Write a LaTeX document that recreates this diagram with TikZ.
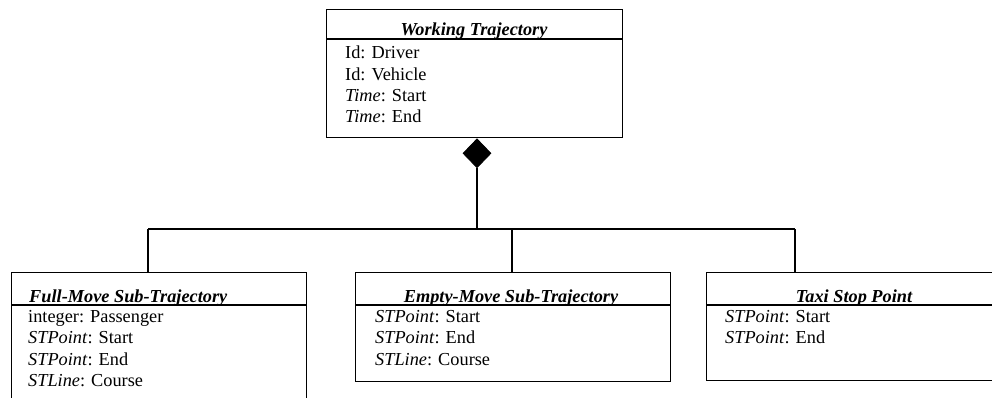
\documentclass[tikz,border=0pt]{standalone}
\usepackage{fontspec}
\setmainfont{Liberation Serif}
\usetikzlibrary{shapes.geometric}
\begin{document}
\begin{tikzpicture}[x=1pt,y=-1pt,
  box/.style={draw, line width=1.4pt, rectangle, inner sep=0pt, anchor=north west},
  attr/.style={anchor=base west, inner sep=0pt, font=\fontsize{18.3}{22}\selectfont},
  ttl/.style={anchor=base, inner sep=0pt, font=\fontsize{18.3}{22}\selectfont\bfseries\itshape},
  ttlw/.style={anchor=base west, inner sep=0pt, font=\fontsize{18.3}{22}\selectfont\bfseries\itshape},
  sep/.style={line width=1.4pt},
  conn/.style={line width=1.4pt}]
\useasboundingbox (0,0) rectangle (992,398);
\clip (0,0) rectangle (992,398);

% Working Trajectory
\node[box, minimum width=296pt, minimum height=128pt] (wt) at (326,9) {};
\draw[sep] (wt.west |- 0,39) -- (wt.east |- 0,39);
\node[ttl] (wtt) at (474,36) {Working Trajectory};
\node[attr] (wt1) at (345,59) {Id: Driver};
\node[attr] (wt2) at (345,80.3) {Id: Vehicle};
\node[attr] (wt3) at (345,101.7) {\textit{Time}: Start};
\node[attr] (wt4) at (345,123) {\textit{Time}: End};

% Full-Move
\node[box, minimum width=295pt, minimum height=140pt] (fm) at (11,272) {};
\draw[sep] (fm.west |- 0,305) -- (fm.east |- 0,305);
\node[ttlw] (fmt) at (29,302) {Full-Move Sub-Trajectory};
\node[attr] (fm1) at (28,322) {integer: Passenger};
\node[attr] (fm2) at (28,343.5) {\textit{STPoint}: Start};
\node[attr] (fm3) at (28,365) {\textit{STPoint}: End};
\node[attr] (fm4) at (28,386.5) {\textit{STLine}: Course};

% Empty-Move
\node[box, minimum width=315pt, minimum height=109pt] (em) at (355,272) {};
\draw[sep] (em.west |- 0,305) -- (em.east |- 0,305);
\node[ttl] (emt) at (511,302) {Empty-Move Sub-Trajectory};
\node[attr] (em1) at (375,322) {\textit{STPoint}: Start};
\node[attr] (em2) at (375,343.5) {\textit{STPoint}: End};
\node[attr] (em3) at (375,365) {\textit{STLine}: Course};

% Taxi Stop Point
\node[box, minimum width=296pt, minimum height=108pt] (ts) at (706,272) {};
\draw[sep] (ts.west |- 0,305) -- (ts.east |- 0,305);
\node[ttl] (tst) at (854,302) {Taxi Stop Point};
\node[attr] (ts1) at (725,322) {\textit{STPoint}: Start};
\node[attr] (ts2) at (725,343.5) {\textit{STPoint}: End};

% composition connector
\coordinate (bus) at (477,229);
\coordinate (busL) at (148,229);
\coordinate (busR) at (795,229);
\coordinate (busM) at (512,229);
\node[diamond, draw, fill=black, line width=0.8pt, inner sep=0pt, minimum width=28pt, minimum height=29pt, anchor=north] (dia) at (wt.south -| bus) {};
\draw[conn] (dia.south) -- (bus);
\draw[conn] (busL) -- (busR);
\draw[conn] (busL) -- (busL |- fm.north);
\draw[conn] (busM) -- (busM |- em.north);
\draw[conn] (busR) -- (busR |- ts.north);
\end{tikzpicture}
\end{document}
